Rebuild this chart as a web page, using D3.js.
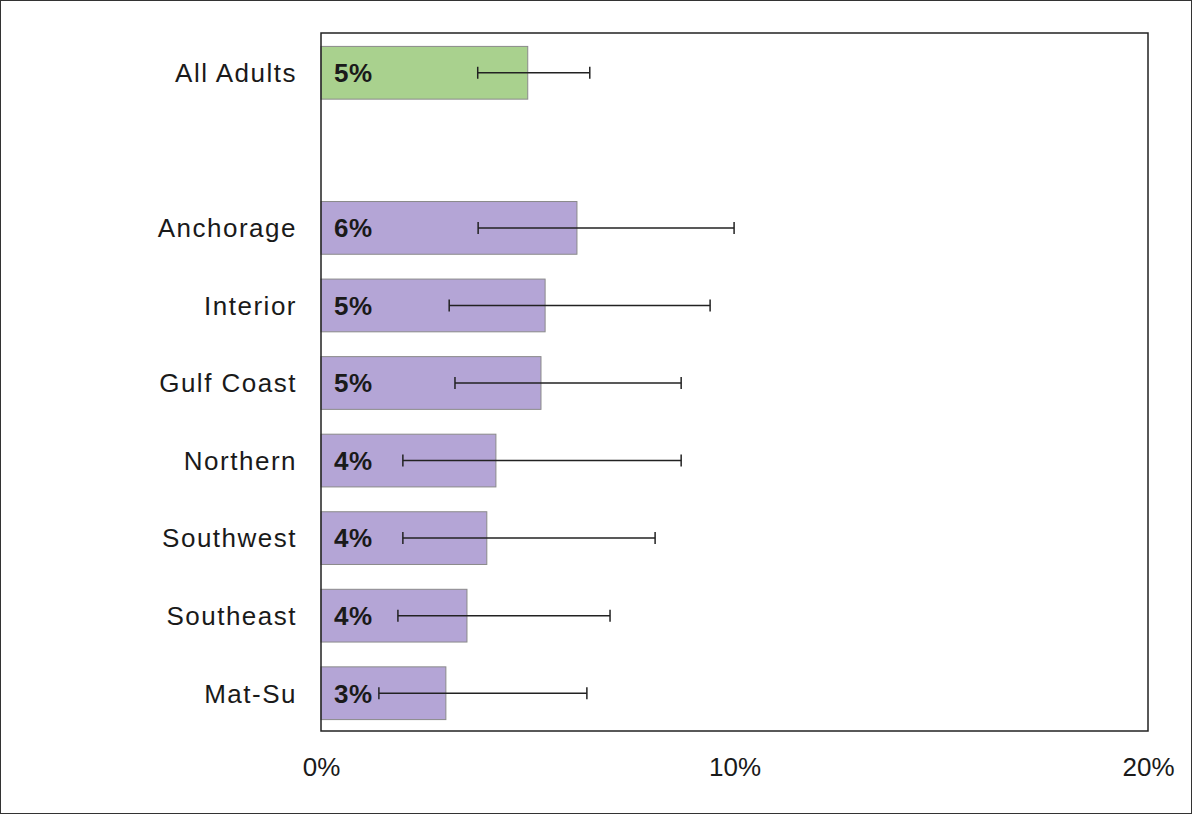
<!DOCTYPE html>
<html><head><meta charset="utf-8">
<script src="https://cdn.jsdelivr.net/npm/d3@7"></script>
<style>body{margin:0;background:#fff}svg{display:block}text{font-family:"Liberation Sans",Arial,sans-serif}</style>
</head><body>
<svg id="c" width="1192" height="814"></svg>
<script>
const categories = ["All Adults", "", "Anchorage", "Interior", "Gulf Coast", "Northern", "Southwest", "Southeast", "Mat-Su"];
const values     = [5.0, null, 6.19, 5.42, 5.32, 4.23, 4.01, 3.53, 3.02];
const lowCI      = [3.79, null, 3.80, 3.10, 3.24, 1.98, 1.98, 1.86, 1.40];
const highCI     = [6.50, null, 9.99, 9.41, 8.71, 8.71, 8.08, 6.99, 6.43];
const valueLabels= ["5%", "", "6%", "5%", "5%", "4%", "4%", "4%", "3%"];
const groups     = ["all", "", "region", "region", "region", "region", "region", "region", "region"];
const xTicks     = [0, 10, 20];

const svg = d3.select("#c");
const W = 1192, H = 814;
const m = {left: 321, right: 1148, top: 33, bottom: 731};
const colors = {all: "#a9d18e", region: "#b4a5d6"};

svg.append("rect").attr("x",0.5).attr("y",0.5).attr("width",W-1).attr("height",H-1)
  .attr("fill","#fff").attr("stroke","#333").attr("stroke-width",1);

const x = d3.scaleLinear().domain([0,20]).range([m.left, m.right]);
const y = d3.scaleBand().domain(d3.range(categories.length)).range([m.top, m.bottom]).paddingInner(0.32).paddingOuter(0.16);

const data = categories.map((c,i)=>({c, v:values[i], lo:lowCI[i], hi:highCI[i], lab:valueLabels[i], g:groups[i], i})).filter(d=>d.v!==null);

// bars
svg.append("g").selectAll("rect").data(data).join("rect")
  .attr("x", x(0)).attr("y", d=>y(d.i)+1).attr("width", d=>x(d.v)-x(0)).attr("height", y.bandwidth())
  .attr("fill", d=>colors[d.g]).attr("stroke","#8a8a8a").attr("stroke-width",1);

// frame
svg.append("rect").attr("x",m.left).attr("y",m.top).attr("width",m.right-m.left).attr("height",m.bottom-m.top)
  .attr("fill","none").attr("stroke","#222").attr("stroke-width",1.5);

// value labels
svg.append("g").selectAll("text").data(data).join("text")
  .attr("x", x(0)+13).attr("y", d=>y(d.i)+1+y.bandwidth()/2).attr("dy","0.36em")
  .attr("font-size",26).attr("font-weight","bold").attr("letter-spacing","0.5px").attr("fill","#1a1a1a").text(d=>d.lab);

// error bars
const eb = svg.append("g").attr("stroke","#222").attr("stroke-width",1.5);
data.forEach(d=>{
  const cy = y(d.i)+1+y.bandwidth()/2;
  eb.append("line").attr("x1",x(d.lo)).attr("x2",x(d.hi)).attr("y1",cy).attr("y2",cy);
  eb.append("line").attr("x1",x(d.lo)).attr("x2",x(d.lo)).attr("y1",cy-6).attr("y2",cy+6);
  eb.append("line").attr("x1",x(d.hi)).attr("x2",x(d.hi)).attr("y1",cy-6).attr("y2",cy+6);
});

// category labels
svg.append("g").selectAll("text").data(data).join("text")
  .attr("x", m.left-24).attr("y", d=>y(d.i)+1+y.bandwidth()/2).attr("dy","0.36em")
  .attr("text-anchor","end").attr("font-size",26).attr("letter-spacing","1.5px").attr("fill","#1a1a1a")
  .attr("xml:space","preserve").style("white-space","pre").text(d=>d.c);

// x axis
const xa = d3.axisBottom(x).tickValues(xTicks).tickFormat(d=>d+"%").tickSize(0).tickPadding(27);
const ag = svg.append("g").attr("transform",`translate(0,${m.bottom})`).call(xa);
ag.select(".domain").remove();
ag.selectAll("text").attr("font-size",26).attr("fill","#1a1a1a").attr("font-family","Liberation Sans, Arial, sans-serif");
</script>
</body></html>
